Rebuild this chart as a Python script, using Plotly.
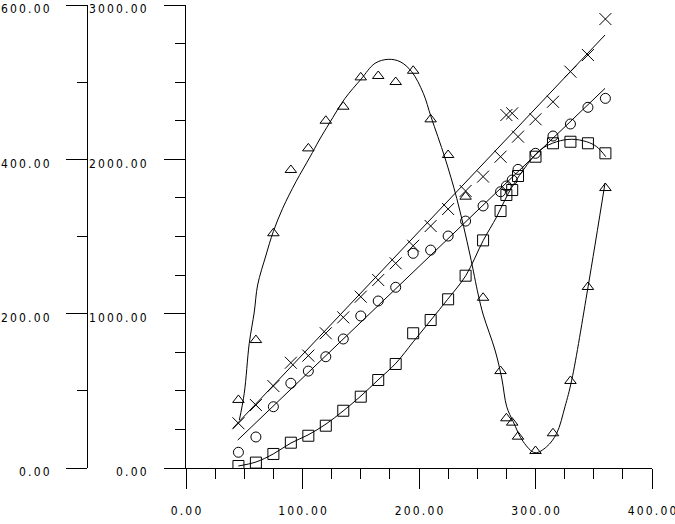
import plotly.graph_objects as go

# observations (read on the 0-3000 scale)
x_obs = [45, 60, 75, 90, 105, 120, 135, 150, 165, 180, 195, 210, 225, 240,
         255, 270, 275, 280, 285, 300, 315, 330, 345, 360]
tri_y = [441, 829, 1521, 1931, 2071, 2250, 2341, 2531, 2540, 2501, 2574, 2259,
         2028, 1758, 1103, 628, 322, 294, 203, 110, 225, 564, 1173, 1814]
cross_y = [290, 408, 531, 682, 728, 873, 976, 1110, 1218, 1326, 1440, 1568,
           1678, 1795, 1888, 2017, 2287, 2298, 2147, 2260, 2373, 2568, 2676, 2909]
circ_y = [102, 201, 397, 549, 628, 721, 836, 985, 1082, 1171, 1391, 1412,
          1503, 1600, 1698, 1790, 1827, 1866, 1935, 2039, 2151, 2229, 2337, 2395]
sq_y = [13, 35, 91, 164, 209, 274, 371, 462, 570, 674, 873, 959,
        1093, 1246, 1475, 1665, 1769, 1801, 1892, 2017, 2104, 2114, 2104, 2039]

# fitted curves
tri_fit_x = [45.8, 50.0, 54.3, 58.6, 61.5, 68.7, 74.9, 83.0, 94.4, 106.4, 114.4,
             123.0, 136.5, 150.2, 162.2, 173.6, 183.7, 193.7, 203.7, 210.3, 222.3,
             232.4, 243.8, 250.9, 255.2, 265.2, 271.0, 275.3, 280.9, 289.5, 299.6,
             309.6, 318.2, 325.3, 331.1, 345.1, 359.7]
tri_fit_y = [311, 484, 808, 1011, 1186, 1380, 1531, 1683, 1855, 2015, 2125,
             2233, 2395, 2519, 2622, 2648, 2633, 2568, 2428, 2276, 2009,
             1747, 1380, 1121, 991, 765, 583, 397, 300, 170, 99,
             138, 225, 397, 570, 1173, 1847]
sq_fit_x = [44.9, 60.1, 74.9, 90.1, 104.7, 120.2, 134.8, 150.2, 164.8, 180.3,
            195.1, 210.3, 224.6, 240.1, 255.2, 266.7, 276.7, 289.5, 303.9, 318.2,
            331.1, 343.9, 352.5, 360.3]
sq_fit_y = [13, 39, 91, 162, 214, 285, 369, 467, 570, 680,
            818, 959, 1093, 1246, 1475, 1628, 1780, 1931, 2060, 2114,
            2130, 2114, 2082, 2017]
cross_fit_x = [40.1, 359.7]
cross_fit_y = [257, 2806]
circ_fit_x = [44.4, 359.7]
circ_fit_y = [181, 2460]

x_ticks = [0, 100, 200, 300, 400]
x_minor = [25, 50, 75, 125, 150, 175, 225, 250, 275, 325, 350, 375]
x_labels = ["0.00", "100.00", "200.00", "300.00", "400.00"]
y_ticks = [0, 1000, 2000, 3000]
y_minor = [250, 500, 750, 1250, 1500, 1750, 2250, 2500, 2750]
y_labels = ["0.00", "1000.00", "2000.00", "3000.00"]
y2_ticks = [0, 200, 400, 600]
y2_minor = [100, 300, 500]
y2_labels = ["0.00", "200.00", "400.00", "600.00"]


def spaced(labels):
    # letter-spaced labels, thin spaces between characters
    return ["\u2009".join(s) for s in labels]


fig = go.Figure()
for fx, fy, shape in [(tri_fit_x, tri_fit_y, "spline"), (sq_fit_x, sq_fit_y, "spline"),
                      (cross_fit_x, cross_fit_y, "linear"), (circ_fit_x, circ_fit_y, "linear")]:
    fig.add_trace(go.Scatter(x=fx, y=fy, mode="lines", line=dict(color="black", width=1, shape=shape),
                             hoverinfo="skip"))

for ys, sym, size in [(tri_y, "triangle-up-open", 10), (cross_y, "x-thin-open", 12),
                      (circ_y, "circle-open", 10), (sq_y, "square-open", 11)]:
    fig.add_trace(go.Scatter(x=x_obs, y=ys, mode="markers",
                             marker=dict(symbol=sym, size=size, color="black", line=dict(color="black", width=1))))

# empty trace so the outer axis gets drawn
fig.add_trace(go.Scatter(x=[None], y=[None], yaxis="y2", mode="markers", showlegend=False))

font = dict(family="DejaVu Sans Condensed, DejaVu Sans, sans-serif", size=12, color="black")
common = dict(showgrid=False, zeroline=False, showline=True, linecolor="black", linewidth=1,
              ticks="outside", tickcolor="black", tickwidth=1, tickfont=font, automargin=False,
              fixedrange=True, tickmode="array", ticklabeloverflow="allow")

fig.update_layout(
    width=675, height=524, autosize=False,
    margin=dict(l=0, r=0, t=0, b=0),
    paper_bgcolor="white", plot_bgcolor="white",
    showlegend=False,
    xaxis=dict(common, domain=[186 / 675, 652 / 675], range=[0, 400],
               tickvals=x_ticks, ticktext=spaced(x_labels), ticklen=20, ticklabelstandoff=12,
               minor=dict(tickmode="array", tickvals=x_minor, ticks="outside", ticklen=10,
                          tickcolor="black", tickwidth=1, showgrid=False)),
    yaxis=dict(common, domain=[56 / 524, 519 / 524], range=[0, 3000],
               tickvals=y_ticks, ticktext=spaced(y_labels), ticklen=21, ticklabelstandoff=15,
               ticklabelshift=4,
               minor=dict(tickmode="array", tickvals=y_minor, ticks="outside", ticklen=10,
                          tickcolor="black", tickwidth=1, showgrid=False)),
    yaxis2=dict(common, domain=[56 / 524, 519 / 524], range=[0, 600], overlaying="y",
                anchor="free", position=87 / 675, side="left",
                tickvals=y2_ticks, ticktext=spaced(y2_labels), ticklen=21, ticklabelstandoff=14,
                ticklabelshift=4,
                minor=dict(tickmode="array", tickvals=y2_minor, ticks="outside", ticklen=10,
                           tickcolor="black", tickwidth=1, showgrid=False)),
)

fig.write_html("out.html", config={"displayModeBar": False},
               post_script="document.body.style.margin = '0';")
